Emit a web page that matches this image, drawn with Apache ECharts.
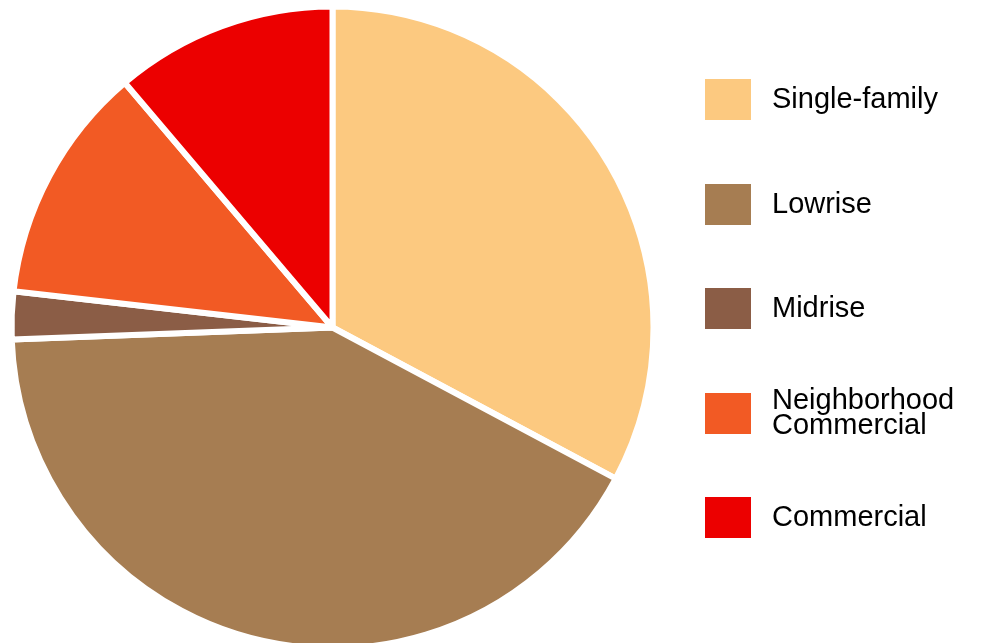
<!DOCTYPE html>
<html>
<head>
<meta charset="utf-8">
<script src="https://cdn.jsdelivr.net/npm/echarts@6/dist/echarts.min.js"></script>
<style>
  html, body { margin: 0; padding: 0; background: #fff; }
  #chart { width: 981px; height: 643px; }
</style>
</head>
<body>
<div id="chart"></div>
<script>
// 各类用地占比（从图上估读，单位 %）
let categories = ['Single-family', 'Lowrise', 'Midrise', 'Neighborhood Commercial', 'Commercial'];
let shares = [32.8, 41.6, 2.4, 12.0, 11.2];
let colors = ['#fcc980', '#a67d52', '#8b5d46', '#f25a24', '#ec0000'];

// 两行文字比色块高，图例框按包围盒定位，所以这一项往上挪
let legendTops = [79, 184, 288, 386.5, 497];

let myChart = echarts.init(document.getElementById('chart'));

// 每个图例单独定位，两行的文字不会挤开后面的项
let legends = categories.map((name, i) => ({
  orient: 'vertical',
  left: 705,
  top: legendTops[i],
  padding: 0,
  itemWidth: 46,
  itemHeight: 41,
  selectedMode: false,
  icon: 'rect',
  itemStyle: { borderWidth: 0 },
  data: [name],
  formatter: n => n.replace('Neighborhood ', 'Neighborhood\n'),
  textStyle: {
    fontFamily: 'Liberation Sans, Arial, sans-serif',
    fontSize: 29,
    lineHeight: name.indexOf('Neighborhood') > -1 ? 25 : 33,
    color: '#000',
    padding: [4, 0, 0, 16]
  }
}));

let option = {
  animation: false,
  color: colors,
  legend: legends,
  series: [
    {
      type: 'pie',
      center: [332.5, 327.5],
      radius: 321,
      startAngle: 90,
      clockwise: true,
      label: { show: false },
      labelLine: { show: false },
      emphasis: { disabled: true },
      itemStyle: { borderColor: '#fff', borderWidth: 6 },
      data: categories.map((name, i) => ({ name: name, value: shares[i] }))
    }
  ]
};
myChart.setOption(option);
</script>
</body>
</html>
